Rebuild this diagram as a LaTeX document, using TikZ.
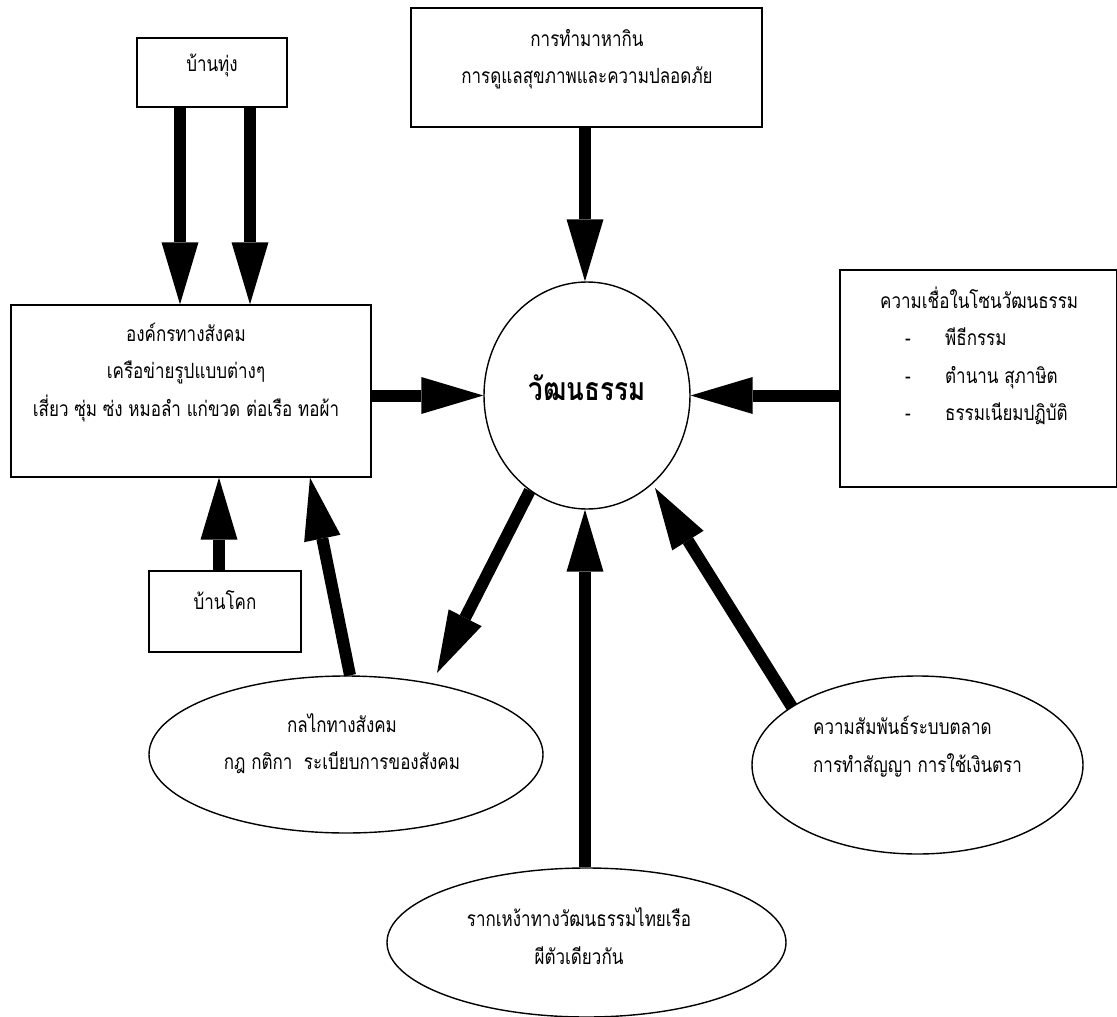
\documentclass[tikz,border=0pt]{standalone}
\usepackage{fontspec}
\newfontfamily\thai[Script=Thai, FakeStretch=0.81]{Loma}
\usetikzlibrary{arrows.meta,shapes.geometric,calc}
\tikzset{
  box/.style={draw, rectangle, line width=1.4pt, inner sep=0pt},
  ell/.style={draw, ellipse, line width=1.4pt, inner sep=0pt},
  txt/.style={font=\thai\fontsize{21}{37.5}\selectfont, align=center, inner sep=0pt},
  bigarrow/.style={line width=12pt, -{Triangle[length=62pt 0 0, width=37pt 0 0, line width=0pt 0 0]}}
}
\begin{document}
\begin{tikzpicture}[x=1pt,y=-1pt]
\useasboundingbox (0,0) rectangle (1117,1017);
% boxes
\node[box, minimum width=150pt, minimum height=69pt] (tung) at (212,72.5) {};
\node[txt] (tungT) at (212,65) {บ้านทุ่ง};
\node[box, minimum width=351pt, minimum height=119pt] (top) at (586.5,67.5) {};
\node[txt] (topT) at (587,59) {การทำมาหากิน\\การดูแลสุขภาพและความปลอดภัย};
\node[box, minimum width=360pt, minimum height=172pt] (org) at (191,391) {};
\node[txt] (orgT) at (186,372.5) {องค์กรทางสังคม\\เครือข่ายรูปแบบต่างๆ\\เสี่ยว ซุ่ม ซ่ง หมอลำ แก่ขวด ต่อเรือ ทอผ้า};
\node[ell, minimum width=206pt, minimum height=227pt] (culture) at (587,395.5) {};
\node[txt, font=\thai\bfseries\fontsize{32}{36}\selectfont] (cultureT) at (587,388) {วัฒนธรรม};
\node[box, minimum width=276.3pt, minimum height=217pt] (belief) at (978.15,378.5) {};
\node[txt, anchor=west, align=left] (beliefT) at (880,356) {ความเชื่อในโซนวัฒนธรรม\\
\makebox[65pt][l]{\hspace*{25pt}-}พีธีกรรม\\
\makebox[65pt][l]{\hspace*{25pt}-}ตำนาน สุภาษิต\\
\makebox[65pt][l]{\hspace*{25pt}-}ธรรมเนียมปฏิบัติ};
\node[box, minimum width=152pt, minimum height=81pt] (khok) at (225,611.5) {};
\node[txt] (khokT) at (225,600) {บ้านโคก};
\node[ell, minimum width=394pt, minimum height=157pt] (mech) at (346,754.5) {};
\node[txt] (mechT) at (342,743.5) {กลไกทางสังคม\\กฎ กติกา\ \ ระเบียบการของสังคม};
\node[ell, minimum width=331pt, minimum height=178pt] (market) at (917.5,765) {};
\node[txt, anchor=west, align=left] (marketT) at (813,746.5) {ความสัมพันธ์ระบบตลาด\\การทำสัญญา การใช้เงินตรา};
\node[ell, minimum width=399pt, minimum height=149pt] (root) at (586.5,942.5) {};
\node[txt] (rootT) at (579,936) {รากเหง้าทางวัฒนธรรมไทยเรือ\\ผีตัวเดียวกัน};
% arrows
\draw[bigarrow] ($(tung.south)+(-32,0)$) -- ($(org.north)+(-11,0)$);
\draw[bigarrow] ($(tung.south)+(38,0)$) -- ($(org.north)+(59,0)$);
\draw[bigarrow] ($(top.south)+(-1.5,0)$) -- ($(culture.north)+(-2,0)$);
\draw[bigarrow] ($(org.east)+(0,4.5)$) -- (culture.west);
\draw[bigarrow] ($(belief.west)+(0,17)$) -- (culture.east);
\draw[bigarrow] ($(khok.north)+(-6,0)$) -- ($(org.south)+(28,0)$);
\draw[bigarrow] ($(mech.north)+(4,0)$) -- ($(org.south)+(119,0)$);
\draw[bigarrow] (culture.239.5) -- ($(mech.center)+(91,-81.5)$);
\draw[bigarrow] ($(root.north)+(-1.5,0)$) -- ($(culture.south)+(-2,0)$);
\draw[bigarrow] ($(market.center)+(-125.5,-58)$) -- ($(culture.center)+(68,92.5)$);
\end{tikzpicture}
\end{document}
